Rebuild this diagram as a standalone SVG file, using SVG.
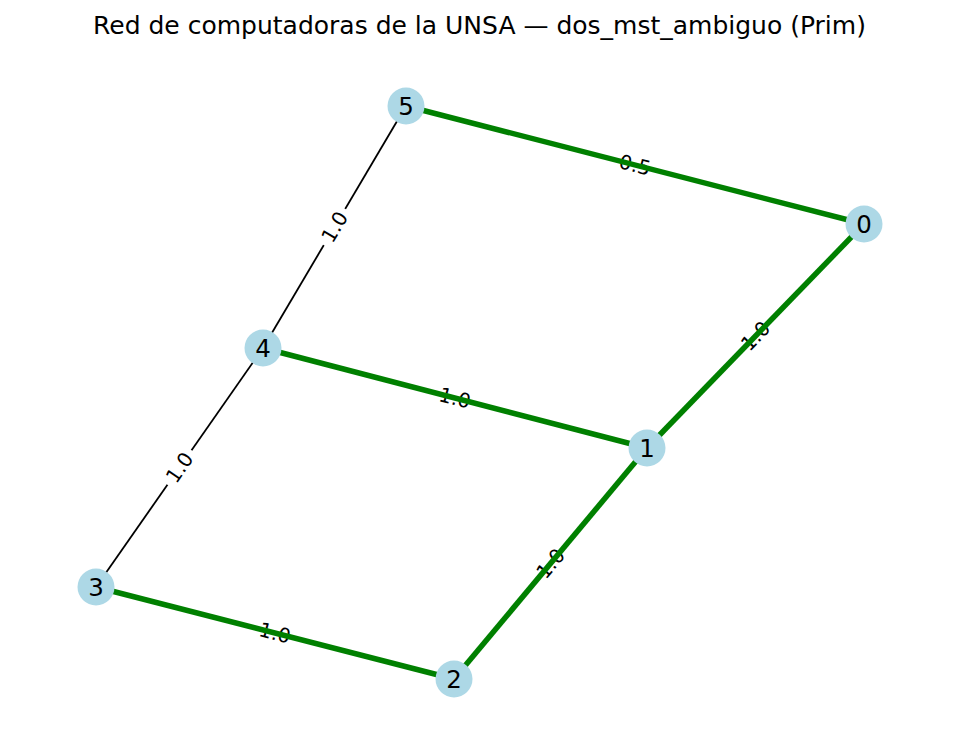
<svg xmlns="http://www.w3.org/2000/svg" width="959" height="754" viewBox="0 0 959 754">
<style>
.title{font-family:"DejaVu Sans",sans-serif;font-size:25px;fill:#000;text-anchor:middle}
.thin{stroke:#000;stroke-width:1.8;fill:none}
.mst{stroke:#008000;stroke-width:5.5;fill:none}
.node circle{fill:#add8e6}
.node text{font-family:"DejaVu Sans",sans-serif;font-size:24.5px;fill:#000;text-anchor:middle;dominant-baseline:central}
.el text{font-family:"DejaVu Sans",sans-serif;font-size:20px;fill:#000;text-anchor:middle;dominant-baseline:central}
.el rect{fill:#fff}
</style>
<rect width="959" height="754" fill="#fff"/>
<text class="title" x="479.5" y="34">Red de computadoras de la UNSA — dos_mst_ambiguo (Prim)</text>
<g id="connectors">
<line class="thin" x1="406" y1="106" x2="263" y2="348"/>
<line class="thin" x1="263" y1="348" x2="96" y2="587"/>
<g class="el">
<g transform="translate(334.5,227) rotate(-59.4)"><rect x="-21" y="-13" width="42" height="26" rx="5"/><text x="0" y="0">1.0</text></g>
<g transform="translate(179.5,467.5) rotate(-55.1)"><rect x="-21" y="-13" width="42" height="26" rx="5"/><text x="0" y="0">1.0</text></g>
<g transform="translate(635,165) rotate(14.4)"><rect x="-21" y="-13" width="42" height="26" rx="5"/><text x="0" y="0">0.5</text></g>
<g transform="translate(755.5,336) rotate(-45.9)"><rect x="-21" y="-13" width="42" height="26" rx="5"/><text x="0" y="0">1.0</text></g>
<g transform="translate(455,398) rotate(14.6)"><rect x="-21" y="-13" width="42" height="26" rx="5"/><text x="0" y="0">1.0</text></g>
<g transform="translate(550.5,563.5) rotate(-50.1)"><rect x="-21" y="-13" width="42" height="26" rx="5"/><text x="0" y="0">1.0</text></g>
<g transform="translate(275,633) rotate(14.4)"><rect x="-21" y="-13" width="42" height="26" rx="5"/><text x="0" y="0">1.0</text></g>
</g>
<line class="mst" x1="406" y1="106" x2="864" y2="224"/>
<line class="mst" x1="864" y1="224" x2="647" y2="448"/>
<line class="mst" x1="263" y1="348" x2="647" y2="448"/>
<line class="mst" x1="647" y1="448" x2="454" y2="679"/>
<line class="mst" x1="96" y1="587" x2="454" y2="679"/>
</g>
<g id="node0" class="node"><circle cx="864" cy="224" r="18.5"/><text x="864" y="224">0</text></g>
<g id="node1" class="node"><circle cx="647" cy="448" r="18.5"/><text x="647" y="448">1</text></g>
<g id="node2" class="node"><circle cx="454" cy="679" r="18.5"/><text x="454" y="679">2</text></g>
<g id="node3" class="node"><circle cx="96" cy="587" r="18.5"/><text x="96" y="587">3</text></g>
<g id="node4" class="node"><circle cx="263" cy="348" r="18.5"/><text x="263" y="348">4</text></g>
<g id="node5" class="node"><circle cx="406" cy="106" r="18.5"/><text x="406" y="106">5</text></g>
</svg>
